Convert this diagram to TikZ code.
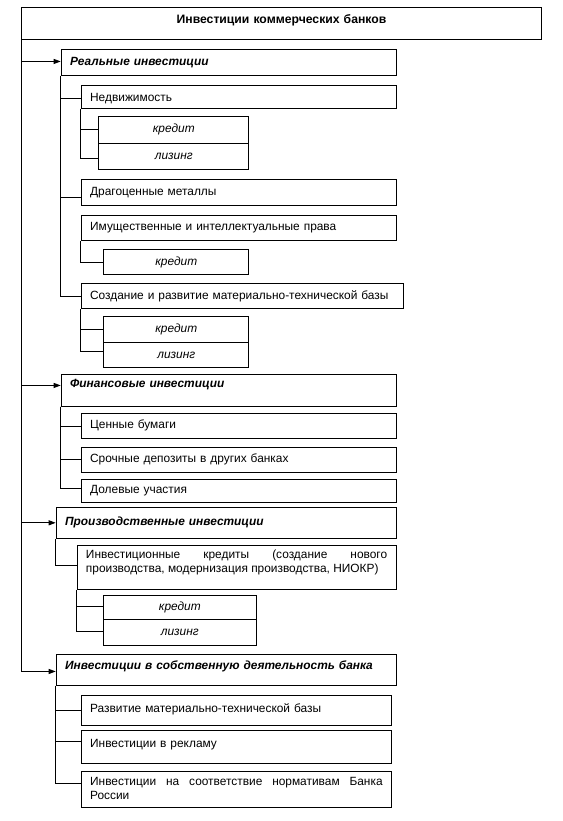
\documentclass[tikz,border=0pt]{standalone}
\usepackage{fontspec}
\setmainfont{Liberation Sans}
\usetikzlibrary{arrows.meta}
\newcommand\fsz{\fontsize{11.9pt}{13.7pt}\selectfont}
\tikzset{
 bx/.style={draw, line width=0.9pt, anchor=north west, inner xsep=9pt, inner ysep=0pt, align=left, font=\fsz},
 cbx/.style={bx, align=center, font=\fsz\itshape},
 hd/.style={bx, font=\fsz\bfseries\itshape},
 ln/.style={line width=0.9pt},
 arr/.style={ln, -{Triangle[length=7pt,width=5pt]}},
}
\begin{document}
\begin{tikzpicture}[x=1pt,y=-1pt]
\useasboundingbox (0,0) rectangle (562,821);
\node[bx, align=center, font=\fontsize{12.2pt}{14pt}\selectfont\bfseries, text width=502pt, text height=15.4pt, text depth=16.6pt] (top) at (21,7.3) {Инвестиции коммерческих банков};
% Real
\node[hd, text width=317pt, text height=15.7pt, text depth=10pt] (real) at (60.7,49.3) {Реальные инвестиции};
\node[bx, text width=297pt, text height=15.7pt, text depth=7.3pt] (nedv) at (80.7,85) {Недвижимость};
\node[cbx, text width=132pt, text height=16pt, text depth=11pt] (k1) at (98.3,116) {кредит};
\node[cbx, text width=132pt, text height=16pt, text depth=10pt] (l1) at (98.3,143) {лизинг};
\node[bx, text width=297pt, text height=15.7pt, text depth=10.3pt] (drag) at (80.7,179.3) {Драгоценные металлы};
\node[bx, text width=297pt, text height=15pt, text depth=10pt] (imush) at (80.7,215) {Имущественные и интеллектуальные права};
\node[cbx, text width=127pt, text height=16pt, text depth=9pt] (k2) at (103.3,249.3) {кредит};
\node[bx, text width=304.3pt, text height=16pt, text depth=9pt] (sozd) at (80.7,283.3) {Создание и развитие материально-технической базы};
\node[cbx, text width=127pt, text height=16pt, text depth=10pt] (k3) at (103.3,316.3) {кредит};
\node[cbx, text width=127pt, text height=16pt, text depth=9pt] (l3) at (103.3,342.3) {лизинг};
% Financial
\node[hd, text width=317pt, text height=13.3pt, text depth=18.4pt] (fin) at (60.7,374) {Финансовые инвестиции};
\node[bx, text width=297pt, text height=14.7pt, text depth=10.3pt] (cen) at (80.7,413.3) {Ценные бумаги};
\node[bx, text width=297pt, text height=15pt, text depth=10pt] (sroch) at (80.7,446.7) {Срочные депозиты в других банках};
\node[bx, text width=297pt, text height=14pt, text depth=8.4pt] (dol) at (80.7,479.3) {Долевые участия};
% Production
\node[hd, text width=322pt, text height=18pt, text depth=13.3pt] (proizv) at (55.7,506.7) {Производственные инвестиции};
\node[bx, align=justify, text width=301.2pt, text height=13.3pt, text depth=31pt] (invkr) at (76.5,545) {Инвестиционные кредиты (создание нового\linebreak производства, модернизация производства, НИОКР)};
\node[cbx, text width=135.3pt, text height=15pt, text depth=9.3pt] (k4) at (102.7,595) {кредит};
\node[cbx, text width=135.3pt, text height=15.7pt, text depth=10pt] (l4) at (102.7,619.3) {лизинг};
% Own activity
\node[hd, text width=322pt, text height=15pt, text depth=15.7pt] (sobst) at (55.7,654.3) {Инвестиции в собственную деятельность банка};
\node[bx, text width=292.5pt, text height=16.7pt, text depth=13.3pt] (razv) at (80.7,695) {Развитие материально-технической базы};
\node[bx, text width=292.5pt, text height=16.7pt, text depth=16pt] (rekl) at (80.7,730) {Инвестиции в рекламу};
\node[bx, align=justify, text width=292.5pt, text height=14.3pt, text depth=21.7pt] (norm) at (80.7,770.7) {Инвестиции на соответствие нормативам Банка\linebreak России};
% main connectors
\draw[arr] (top.south west) |- ([yshift=1.15pt]real.west);
\draw[arr] (top.south west) |- ([yshift=4.85pt]fin.west);
\draw[arr] (top.south west) |- (proizv.west);
\draw[arr] (top.south west) |- ([yshift=-1.35pt]sobst.west);
% real group
\draw[ln] (real.south west) |- ([yshift=-1.2pt]nedv.west);
\draw[ln] (real.south west) |- ([yshift=-4.4pt]drag.west);
\draw[ln] (real.south west) |- (sozd.west);
\draw[ln] (nedv.south west) |- (k1.west);
\draw[ln] (nedv.south west) |- ([yshift=-2pt]l1.west);
\draw[ln] (imush.south west) |- (k2.west);
\draw[ln] (sozd.south west) |- (k3.west);
\draw[ln] (sozd.south west) |- ([yshift=4.1pt]l3.west);
% fin group
\draw[ln] (fin.south west) |- (cen.west);
\draw[ln] (fin.south west) |- (sroch.west);
\draw[ln] (fin.south west) |- ([yshift=2.8pt]dol.west);
% production group
\draw[ln] (proizv.south west) |- ([yshift=2.2pt]invkr.west);
\draw[ln] (invkr.south west) |- ([yshift=1.45pt]k4.west);
\draw[ln] (invkr.south west) |- ([yshift=1.45pt]l4.west);
% own group
\draw[ln] (sobst.south west) |- (razv.west);
\draw[ln] (sobst.south west) |- ([yshift=5.35pt]rekl.west);
\draw[ln] (sobst.south west) |- ([yshift=6pt]norm.west);
\end{tikzpicture}
\end{document}
